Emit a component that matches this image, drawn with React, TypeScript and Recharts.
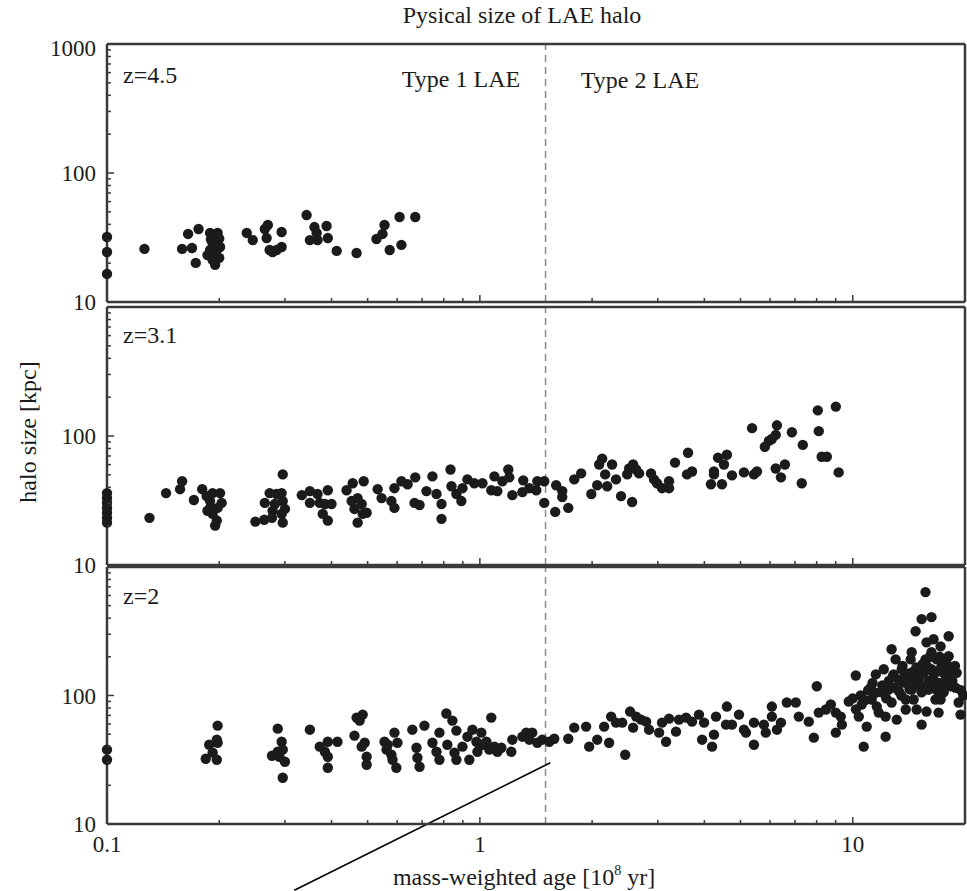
import { ScatterChart, Scatter, XAxis, YAxis, ReferenceLine } from "recharts";

const FONT = '"Liberation Serif", "Times New Roman", serif';
const INK = "#1b1b1b";
const FRAME = "#3a3a3a";

// log axes
const xTicks = [0.1, 0.2, 0.3, 0.4, 0.5, 0.6, 0.7, 0.8, 0.9, 1, 2, 3, 4, 5, 6, 7, 8, 9, 10];
const xLabels = [0.1, 1, 10];
const yTicks = [10, 20, 30, 40, 50, 60, 70, 80, 90, 100, 200, 300, 400, 500, 600, 700, 800, 900, 1000];
const yMajor = [10, 100, 1000];
const typeBoundary = 1.5;

// [age 10^8 yr, halo size kpc]
const z45: [number, number][] = [
  [0.1, 31.9], [0.1, 24.4], [0.1, 16.5], [0.126, 25.8], [0.159, 25.8], [0.165, 33.7], [0.169, 26.2],
  [0.176, 36.8], [0.173, 20.1], [0.189, 34.3], [0.198, 34.3], [0.192, 28.7], [0.189, 25.3], [0.197, 25.3],
  [0.192, 21.2], [0.195, 19.4], [0.201, 26.7], [0.186, 23.1], [0.2, 31.0], [0.195, 23.0], [0.19, 30.5],
  [0.2, 22.0], [0.237, 34.3], [0.246, 30.2], [0.265, 36.8], [0.27, 39.5], [0.268, 31.3], [0.273, 25.3],
  [0.285, 25.3], [0.294, 34.9], [0.294, 26.7], [0.278, 24.4], [0.343, 47.2], [0.36, 38.1], [0.388, 38.8],
  [0.35, 30.2], [0.367, 30.2], [0.391, 31.3], [0.365, 34.3], [0.413, 24.9], [0.467, 24.0], [0.528, 30.8],
  [0.548, 33.7], [0.555, 39.5], [0.573, 25.3], [0.609, 45.6], [0.616, 27.7], [0.671, 45.6],
];

const z31: [number, number][] = [
  [0.1, 36.1], [0.1, 33.0], [0.1, 30.3], [0.1, 27.7], [0.1, 25.4], [0.1, 23.2], [0.1, 21.3],
  [0.13, 23.2], [0.144, 36.1], [0.157, 38.7], [0.159, 44.6], [0.171, 31.9],
  [0.18, 38.7], [0.185, 34.2], [0.189, 31.3], [0.192, 36.1], [0.201, 36.1], [0.203, 30.3], [0.186, 26.3],
  [0.192, 24.9], [0.197, 22.1], [0.195, 20.2], [0.189, 27.7], [0.198, 27.7],
  [0.25, 21.7], [0.264, 22.4], [0.265, 30.3], [0.273, 36.1], [0.285, 35.5], [0.282, 29.7], [0.278, 26.3],
  [0.296, 50.4], [0.294, 36.1], [0.296, 31.3], [0.294, 24.9], [0.296, 21.3], [0.277, 23.2], [0.3, 27.2],
  [0.333, 34.8], [0.35, 37.4], [0.35, 30.3], [0.367, 35.5], [0.372, 30.3], [0.391, 38.0], [0.384, 29.7],
  [0.379, 24.9], [0.391, 22.1], [0.4, 29.7],
  [0.439, 38.0], [0.456, 43.0], [0.488, 44.6], [0.453, 31.3], [0.47, 33.0], [0.461, 27.2], [0.482, 29.7],
  [0.497, 25.4], [0.47, 21.3], [0.485, 24.9],
  [0.532, 38.7], [0.545, 33.0], [0.579, 31.3], [0.59, 27.7], [0.59, 39.4], [0.616, 44.6], [0.64, 42.3],
  [0.671, 47.8], [0.668, 30.3], [0.689, 29.2], [0.746, 48.6], [0.719, 37.4], [0.765, 35.5], [0.789, 29.7],
  [0.789, 22.8], [0.834, 55.0], [0.839, 40.8], [0.865, 35.5], [0.892, 31.3], [0.898, 39.4], [0.926, 46.1],
  [0.966, 43.0],
  [1.016, 43.0], [1.073, 38.0], [1.094, 48.6], [1.114, 37.4], [1.149, 44.6], [1.192, 55.0], [1.199, 47.8],
  [1.222, 34.8], [1.3, 36.7], [1.307, 45.3], [1.357, 39.4], [1.417, 38.0], [1.426, 44.6], [1.488, 44.6],
  [1.488, 30.3], [1.602, 41.5], [1.663, 37.4], [1.592, 25.8], [1.726, 27.7], [1.663, 33.6], [1.791, 46.1],
  [1.869, 51.3], [1.99, 35.5], [2.064, 41.5], [2.089, 60.1], [2.128, 66.7], [2.168, 50.4], [2.195, 40.8],
  [2.262, 60.1], [2.318, 46.1], [2.391, 34.2], [2.56, 30.8], [2.483, 50.4], [2.576, 60.1], [2.625, 55.0],
  [2.673, 51.3], [2.513, 56.0], [2.877, 51.3], [2.931, 46.1], [2.986, 43.0], [3.08, 39.4], [3.216, 44.6],
  [3.216, 39.4], [3.337, 62.2], [3.594, 50.4], [3.707, 53.1], [3.616, 74.1], [4.167, 42.3], [4.244, 53.1],
  [4.244, 50.4], [4.352, 67.9], [4.514, 60.1], [4.597, 71.6], [4.459, 42.3], [4.743, 49.5], [5.107, 52.2],
  [5.433, 50.4], [5.534, 53.1], [5.37, 115], [5.811, 82.4], [5.957, 91.6], [6.068, 94.8], [6.262, 121],
  [6.215, 102], [6.215, 56.0], [6.418, 47.8], [6.577, 60.1], [6.867, 107], [7.345, 85.3], [7.298, 43.0],
  [8.058, 158], [8.107, 109], [8.255, 69.1], [8.52, 69.1], [9.008, 169], [9.167, 52.2],
];

const z2: [number, number][] = [
  [0.1, 37.9], [0.1, 31.6],
  [0.184, 32.2], [0.188, 41.4], [0.192, 35.9], [0.197, 31.6], [0.198, 58.3], [0.198, 42.9], [0.197, 45.3],
  [0.277, 34.0], [0.287, 55.2], [0.294, 43.7], [0.296, 37.9], [0.29, 33.4], [0.3, 30.5], [0.296, 22.9],
  [0.287, 36.5], [0.35, 54.2],
  [0.372, 40.0], [0.391, 43.7], [0.391, 33.4], [0.391, 27.4], [0.415, 43.7], [0.384, 36.5],
  [0.461, 48.7], [0.467, 67.3], [0.485, 71.0], [0.476, 63.8], [0.491, 42.9], [0.497, 33.4], [0.497, 28.9],
  [0.482, 40.0],
  [0.555, 43.7], [0.562, 37.9], [0.579, 34.6], [0.583, 31.6], [0.597, 27.4], [0.59, 51.4], [0.601, 42.9],
  [0.566, 41.4], [0.659, 54.2], [0.676, 39.2], [0.68, 32.8], [0.689, 27.9], [0.71, 58.3],
  [0.746, 42.9], [0.765, 36.5], [0.779, 51.4], [0.779, 31.6], [0.813, 72.4], [0.818, 41.4], [0.844, 63.8],
  [0.865, 53.3], [0.855, 35.9], [0.865, 31.6], [0.898, 40.0], [0.926, 47.8], [0.937, 31.6], [0.955, 54.2],
  [0.979, 43.7], [0.985, 36.5],
  [1.009, 51.4], [1.016, 41.4], [1.041, 43.7], [1.073, 67.3], [1.06, 37.9], [1.094, 40.0], [1.114, 36.5],
  [1.142, 39.2], [1.214, 36.5], [1.222, 45.3], [1.3, 47.8], [1.332, 51.4], [1.357, 45.3], [1.382, 51.4],
  [1.426, 42.9], [1.47, 45.3], [1.535, 43.7], [1.583, 46.1],
  [1.726, 46.1], [1.791, 56.2], [1.927, 57.3], [1.964, 40.0], [2.064, 45.3], [2.154, 57.3], [2.249, 68.5],
  [2.221, 42.9], [2.318, 61.5], [2.453, 34.6], [2.408, 61.5], [2.529, 75.0], [2.576, 56.2], [2.625, 68.5],
  [2.706, 64.9], [2.792, 62.6], [2.843, 54.2], [3.025, 51.4], [3.157, 43.7], [3.08, 61.5], [3.216, 66.1],
  [3.357, 52.3], [3.42, 64.9], [3.572, 67.3], [3.707, 62.6], [3.869, 71.0], [3.945, 45.3], [3.993, 61.5],
  [4.195, 40.0], [4.244, 49.6], [4.298, 68.5], [4.597, 82.0], [4.572, 59.3], [4.743, 59.3], [4.954, 71.0],
  [5.107, 54.2], [5.17, 51.4], [5.433, 61.5], [5.433, 41.4], [5.777, 59.3], [5.845, 51.4], [6.068, 82.0],
  [6.068, 68.5], [6.262, 54.2], [6.418, 61.5], [6.654, 88.2], [7.035, 88.2], [7.166, 68.5], [7.622, 62.6],
  [7.863, 47.0], [8.009, 118], [8.107, 73.6], [8.471, 77.8], [8.734, 85.1], [9.008, 51.4], [9.008, 73.6],
  [9.35, 59.3], [9.288, 68.5],
  [9.757, 89.8], [10.19, 143], [10.38, 68.5], [10.57, 85.1], [10.7, 40.0], [10.9, 57.3], [11.17, 115],
  [11.53, 146], [11.6, 82.0], [11.96, 106], [12.25, 47.8], [12.25, 68.5], [12.71, 229], [12.87, 146],
  [12.71, 88.2], [13.12, 64.9], [13.53, 160], [13.7, 126], [13.87, 93.0], [14.3, 191], [14.39, 111],
  [14.74, 316], [14.84, 77.8], [15.3, 59.3], [15.3, 393], [15.67, 638], [15.77, 259], [15.96, 160],
  [16.26, 407], [16.26, 217], [16.67, 118], [16.99, 73.6], [17.2, 93.0], [17.31, 169], [17.75, 133],
  [18.08, 289], [18.41, 160], [18.87, 115], [19.23, 88.2], [19.46, 71.0], [16.47, 274], [16.78, 191],
  [17.2, 241], [15.02, 133], [14.13, 138], [13.28, 133], [12.48, 111], [13.03, 191], [14.39, 151],
  [15.67, 191], [16.26, 160], [15.96, 111], [15.3, 106], [14.56, 93.0], [13.87, 77.8], [15.77, 75.0],
  [16.67, 93.0], [17.53, 106], [18.08, 202], [18.3, 118], [14.39, 217], [11.24, 93.0], [11.74, 73.6],
  [12.11, 160],
  [10.0, 95], [10.5, 100], [11.0, 110], [11.5, 105], [12.0, 120], [12.5, 130], [13.0, 115], [13.5, 100],
  [14.0, 125], [14.5, 140], [15.0, 120], [15.5, 150], [16.0, 130], [16.5, 145], [17.0, 125], [17.5, 150],
  [18.0, 140], [18.5, 130], [19.0, 150], [19.5, 110], [10.2, 78], [10.8, 92], [11.3, 125], [12.8, 140],
  [13.8, 150], [14.8, 165], [15.8, 170], [16.8, 110], [17.8, 180], [18.8, 170],
  [13.3, 108], [14.2, 112], [15.1, 140], [15.6, 118], [16.1, 200], [16.9, 155], [17.6, 120], [18.2, 165],
  [14.7, 128], [15.4, 175], [16.4, 126], [17.1, 200], [13.6, 170], [12.3, 95], [19.8, 100],
];

// stray pen stroke in the bottom panel, in data units
const strayStroke = [
  { x: 0.318, y: 3.05 },
  { x: 1.545, y: 30 },
];

const toRows = (pts: [number, number][]) => pts.map(([x, y]) => ({ x, y }));

function xTick(side: "top" | "bottom", labels: boolean) {
  return (props: any) => {
    const { x, y, payload } = props;
    const v = payload.value;
    const major = xLabels.includes(v);
    const len = major ? 7 : 4;
    const dir = side === "bottom" ? -1 : 1;
    return (
      <g>
        <line x1={x} y1={y} x2={x} y2={y + dir * len} stroke={FRAME} strokeWidth={1.5} />
        {labels && major && (
          <text x={x} y={y + 28} textAnchor="middle" fontFamily={FONT} fontSize={23} fill={INK}>
            {v}
          </text>
        )}
      </g>
    );
  };
}

function yTick(side: "left" | "right", labelVals: number[]) {
  return (props: any) => {
    const { x, y, payload } = props;
    const v = payload.value;
    const major = yMajor.includes(v);
    const len = major ? 7 : 4;
    const dir = side === "left" ? 1 : -1;
    return (
      <g>
        <line x1={x} y1={y} x2={x + dir * len} y2={y} stroke={FRAME} strokeWidth={1.5} />
        {side === "left" && labelVals.includes(v) && (
          <text x={x - 11} y={y + (v === 1000 ? 12 : 8)} textAnchor="end" fontFamily={FONT} fontSize={23} fill={INK}>
            {v}
          </text>
        )}
      </g>
    );
  };
}

const dot = (p: any) => <circle cx={p.cx} cy={p.cy} r={5.2} fill={INK} />;

const axisLine = { stroke: FRAME, strokeWidth: 2.5 };

function Panel({
  top,
  height,
  margin,
  points,
  yLabels,
  xLabelsOn,
  stroke,
}: {
  top: number;
  height: number;
  margin: { top: number; right: number; bottom: number; left: number };
  points: [number, number][];
  yLabels: number[];
  xLabelsOn: boolean;
  stroke?: boolean;
}) {
  const common = {
    type: "number" as const,
    scale: "log" as const,
    tickLine: false,
    tickSize: 0,
    tickMargin: 0,
    interval: 0 as const,
    axisLine,
  };
  return (
    <div style={{ position: "absolute", left: 0, top }}>
      <ScatterChart width={967} height={height} margin={margin}>
        <XAxis {...common} dataKey="x" domain={[0.1, 20]} ticks={xTicks} height={1} tick={xTick("bottom", xLabelsOn)} />
        <XAxis {...common} xAxisId="top" orientation="top" dataKey="x" domain={[0.1, 20]} ticks={xTicks} height={1} tick={xTick("top", false)} />
        <YAxis {...common} dataKey="y" domain={[10, 1000]} ticks={yTicks} width={1} tick={yTick("left", yLabels)} />
        <YAxis {...common} yAxisId="right" orientation="right" dataKey="y" domain={[10, 1000]} ticks={yTicks} width={1} tick={yTick("right", [])} />
        <ReferenceLine x={typeBoundary} stroke="#8a8a8a" strokeWidth={1.5} strokeDasharray="7 5" />
        <Scatter data={toRows(points)} shape={dot} isAnimationActive={false} />
        {stroke && (
          <ReferenceLine segment={strayStroke} stroke="#000" strokeWidth={1.6} ifOverflow="visible" />
        )}
      </ScatterChart>
    </div>
  );
}

export default function App() {
  return (
    <div style={{ position: "absolute", left: 0, top: 0, width: 967, height: 891, background: "#fff" }}>
      <Panel top={0} height={322} margin={{ top: 43, right: 1, bottom: 19, left: 106 }} points={z45} yLabels={[10, 100, 1000]} xLabelsOn={false} />
      <Panel top={300} height={282} margin={{ top: 6, right: 1, bottom: 16, left: 106 }} points={z31} yLabels={[10, 100]} xLabelsOn={false} />
      <Panel top={560} height={331} margin={{ top: 6, right: 1, bottom: 66, left: 106 }} points={z2} yLabels={[10, 100]} xLabelsOn stroke />
      <svg
        width={967}
        height={891}
        style={{ position: "absolute", left: 0, top: 0, pointerEvents: "none" }}
        fontFamily={FONT}
        fill={INK}
        fontSize={24}
      >
        <text x={522} y={23} textAnchor="middle">Pysical size of LAE halo</text>
        <text x={123} y={83}>z=4.5</text>
        <text x={461} y={87} textAnchor="middle">Type 1 LAE</text>
        <text x={640} y={88} textAnchor="middle">Type 2 LAE</text>
        <text x={123} y={343}>z=3.1</text>
        <text x={123} y={604}>z=2</text>
        <text x={524} y={885} textAnchor="middle">
          mass-weighted age [10<tspan dy={-10} fontSize={14}>8</tspan>
          <tspan dy={10}> yr]</tspan>
        </text>
        <text transform="translate(36,432) rotate(-90)" textAnchor="middle">halo size [kpc]</text>
      </svg>
    </div>
  );
}
